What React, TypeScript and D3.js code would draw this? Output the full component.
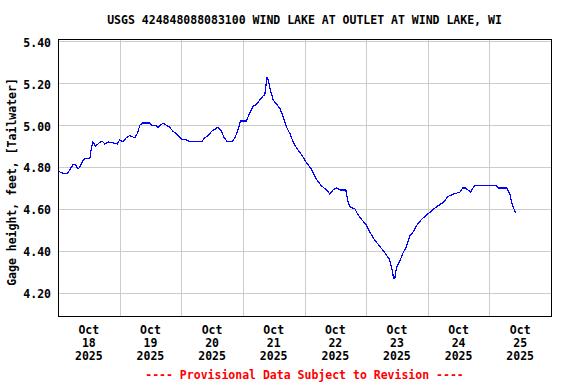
import React from "react";
import * as d3 from "d3";

const TITLE = "USGS 424848088083100 WIND LAKE AT OUTLET AT WIND LAKE, WI";
const Y_LABEL = "Gage height, feet, [Tailwater]";
const FOOTER = "---- Provisional Data Subject to Revision ----";

// hours since 2025-10-18 00:00 (local)
const hours = [
  0, 2, 3.7, 5.8, 6.9, 7.8, 8.5, 9.7, 10.4, 12.4, 13.0, 13.6, 14.6, 15.6, 16.5, 17.5, 18.2, 19.5, 23.1,
  24.0, 25.3, 26.6, 27.9, 29.9, 30.9, 31.9, 32.9, 35.7, 36.4, 37.7, 39.0, 40.9, 42.2, 43.5, 44.8, 46.1,
  47.4, 48.7, 50.0, 51.3, 55.9, 57.2, 58.4, 59.8, 61.1, 62.3, 63.7, 64.7, 66.0, 67.7, 68.9, 69.9, 71.1,
  73.4, 74.7, 76.0, 77.3, 78.6, 79.9, 80.5, 80.9, 81.4, 82.0, 82.5, 83.1, 83.8, 85.1, 86.4, 87.7, 89.0,
  90.3, 91.6, 92.9, 94.8, 96.8, 98.7, 100.7, 102.6, 104.6, 105.9, 107.1, 108.5, 109.8, 112.1, 112.8,
  113.6, 115.6, 116.9, 118.2, 120.2, 121.4, 123.4, 125.4, 127.3, 129.0, 129.9, 130.7, 131.2, 131.8,
  133.1, 134.4, 135.7, 137.0, 138.3, 139.6, 141.6, 143.5, 145.5, 147.4, 150.0, 152.0, 153.9, 156.5,
  157.6, 158.6, 160.7, 162.1, 170.8, 171.4, 174.7, 176.0, 176.9, 178.2,
];
const gageHeight = [
  4.78, 4.77, 4.77, 4.81, 4.81, 4.79, 4.80, 4.83, 4.84, 4.84, 4.89, 4.92, 4.90, 4.91, 4.92, 4.92, 4.91, 4.92, 4.91,
  4.93, 4.92, 4.94, 4.95, 4.94, 4.96, 5.00, 5.01, 5.01, 5.00, 5.00, 4.99, 5.01, 5.00, 4.99, 4.97, 4.96,
  4.94, 4.93, 4.93, 4.92, 4.92, 4.94, 4.95, 4.97, 4.98, 4.99, 4.97, 4.94, 4.92, 4.92, 4.94, 4.97, 5.02,
  5.02, 5.06, 5.09, 5.10, 5.12, 5.14, 5.14, 5.18, 5.23, 5.21, 5.18, 5.15, 5.12, 5.10, 5.08, 5.04, 4.99,
  4.96, 4.92, 4.89, 4.86, 4.82, 4.79, 4.74, 4.71, 4.69, 4.67, 4.69, 4.70, 4.69, 4.69, 4.64,
  4.61, 4.60, 4.57, 4.55, 4.52, 4.49, 4.45, 4.42, 4.39, 4.36, 4.32, 4.27, 4.27, 4.32,
  4.35, 4.39, 4.42, 4.47, 4.49, 4.52, 4.55, 4.57, 4.59, 4.61, 4.63, 4.66, 4.67, 4.68,
  4.70, 4.70, 4.68, 4.71, 4.71, 4.70, 4.70, 4.67, 4.62, 4.58,
];

const yTicks = [4.2, 4.4, 4.6, 4.8, 5.0, 5.2, 5.4];
const dayLabels = ["18", "19", "20", "21", "22", "23", "24", "25"];
const MONTH = "Oct";
const YEAR = "2025";

const W = 576;
const H = 384;
const M = { left: 58, right: 551, top: 39, bottom: 316 };
const FONT = "'DejaVu Sans Mono', monospace";

export default function App() {
  const start = new Date(2025, 9, 18, 0, 0);
  const end = new Date(2025, 9, 26, 0, 0);
  const x = d3.scaleTime().domain([start, end]).range([M.left, M.right]);
  const y = d3.scaleLinear().domain([4.088, 5.4115]).range([M.bottom, M.top]);
  const toDate = (h: number) => new Date(start.getTime() + h * 3600 * 1000);

  const data = hours.map((h, i) => ({ t: toDate(h), v: gageHeight[i] }));
  const line = d3
    .line<{ t: Date; v: number }>()
    .x((d) => x(d.t))
    .y((d) => y(d.v));

  const midnights = d3.timeDay.range(d3.timeDay.offset(start, 1), end);
  const noons = dayLabels.map((_, i) => new Date(2025, 9, 18 + i, 12, 0));

  return (
    <svg width={W} height={H} style={{ position: "absolute", left: 0, top: 0 }}>
      <rect x={0} y={0} width={W} height={H} fill="#ffffff" />
      <text x={(M.left + M.right) / 2} y={24} textAnchor="middle" fontFamily={FONT} fontWeight="bold" fontSize={11.5}>
        {TITLE}
      </text>
      {/* horizontal grid */}
      {yTicks.map((v) => (
        <line key={"gy" + v} x1={M.left} x2={M.right} y1={Math.round(y(v)) + 0.5} y2={Math.round(y(v)) + 0.5} stroke="#cccccc" strokeWidth={1} />
      ))}
      {/* vertical grid */}
      {midnights.map((d, i) => (
        <line key={"gx" + i} x1={Math.round(x(d)) + 0.5} x2={Math.round(x(d)) + 0.5} y1={M.top} y2={M.bottom} stroke="#cccccc" strokeWidth={1} />
      ))}
      {/* data */}
      <path d={line(data) || ""} fill="none" stroke="#0000ff" strokeWidth={1.2} shapeRendering="crispEdges" />
      {/* frame */}
      <rect x={M.left + 0.5} y={M.top + 0.5} width={M.right - M.left} height={M.bottom - M.top} fill="none" stroke="#000" strokeWidth={1} />
      {/* y tick labels */}
      {yTicks.map((v) => (
        <text key={"ty" + v} x={51} y={y(v) + 5.5} textAnchor="end" fontFamily={FONT} fontWeight="bold" fontSize={11.5}>
          {v.toFixed(2)}
        </text>
      ))}
      {/* x labels */}
      {noons.map((d, i) => (
        <text key={"tx" + i} x={x(d)} textAnchor="middle" fontFamily={FONT} fontWeight="bold" fontSize={11.5}>
          <tspan x={x(d)} y={334}>{MONTH}</tspan>
          <tspan x={x(d)} y={347}>{dayLabels[i]}</tspan>
          <tspan x={x(d)} y={360}>{YEAR}</tspan>
        </text>
      ))}
      <text transform="translate(16,182) rotate(-90)" textAnchor="middle" fontFamily={FONT} fontWeight="bold" fontSize={11.5}>
        {Y_LABEL}
      </text>
      <text x={(M.left + M.right) / 2} y={379} textAnchor="middle" fontFamily={FONT} fontWeight="bold" fontSize={11.5} fill="#ff0000">
        {FOOTER}
      </text>
    </svg>
  );
}
